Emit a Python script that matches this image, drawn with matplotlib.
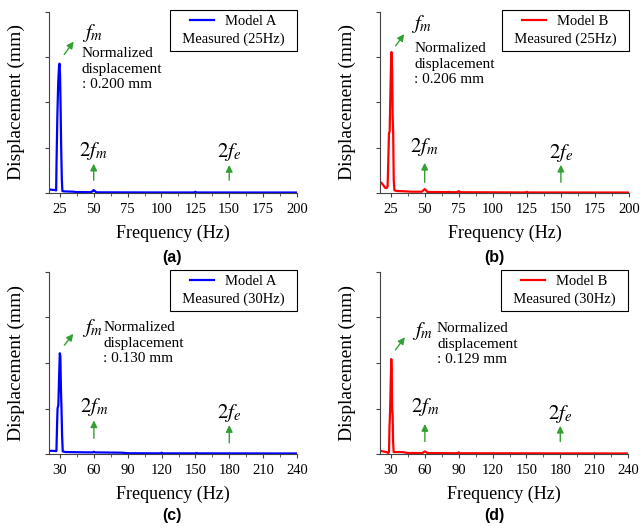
import matplotlib
matplotlib.use("Agg")
import matplotlib.pyplot as plt
from matplotlib.ticker import MultipleLocator

plt.rcParams['font.family'] = ['Liberation Serif', 'DejaVu Serif']
plt.rcParams['mathtext.fontset'] = 'stix'

# ---- data (displacement in mm, arbitrary scale) ----
freq_a = [17, 19, 21.5, 22.3, 22.6, 23.2, 23.8, 24.4, 24.8, 25.2, 25.6, 26.0, 26.5,
          26.9, 28, 35, 37, 48, 49.2, 50, 50.8, 52, 100, 124, 125, 126, 200]
disp_a = [0.0056, 0.005, 0.0045, 0.004, 0.05, 0.12, 0.17, 0.195, 0.2, 0.18, 0.13,
          0.07, 0.02, 0.003, 0.0025, 0.002, 0.0015, 0.0012, 0.003, 0.0045, 0.003,
          0.001, 0.0008, 0.0008, 0.0018, 0.0008, 0.0007]

freq_b = [17.2, 18, 19, 20, 21, 22, 22.8, 23.3, 23.8, 24.3, 24.8, 25.3, 25.7, 26.1,
          26.5, 26.9, 27.3, 27.8, 30, 36, 40, 48, 49, 50, 51, 52, 60, 74, 75, 76,
          124, 125, 126, 200]
disp_b = [0.0174, 0.016, 0.014, 0.011, 0.008, 0.0075, 0.01, 0.05, 0.092, 0.095,
          0.15, 0.2, 0.218, 0.19, 0.12, 0.09, 0.02, 0.004, 0.003, 0.0025, 0.002,
          0.002, 0.004, 0.006, 0.004, 0.0015, 0.0015, 0.0012, 0.003, 0.0012,
          0.0008, 0.0018, 0.0008, 0.0007]

freq_c = [20, 24, 26.8, 27.3, 27.8, 28.5, 29.2, 29.8, 30.3, 30.8, 31.3, 31.8, 32.4,
          35, 55, 59, 60, 61, 85, 90, 119, 120, 121, 150, 151, 152, 240]
disp_c = [0.005, 0.0048, 0.0045, 0.04, 0.07, 0.075, 0.12, 0.155, 0.15, 0.1, 0.07,
          0.03, 0.004, 0.003, 0.0025, 0.0025, 0.0035, 0.0025, 0.002, 0.0012, 0.001,
          0.002, 0.001, 0.001, 0.0016, 0.001, 0.0008]

freq_d = [20.2, 23, 26, 27.5, 28.2, 28.6, 29.2, 29.7, 30.2, 30.6, 31.0, 31.4, 31.8,
          32.3, 40, 45, 58, 59, 60, 61, 62, 89, 90, 91, 240]
disp_d = [0.005, 0.004, 0.003, 0.0015, 0.003, 0.04, 0.068, 0.11, 0.146, 0.13, 0.07,
          0.06, 0.02, 0.003, 0.003, 0.0015, 0.0015, 0.003, 0.004, 0.003, 0.0015,
          0.0012, 0.0025, 0.0012, 0.0008]

models = ['Model A', 'Model B', 'Model A', 'Model B']
measured = ['Measured (25Hz)', 'Measured (25Hz)', 'Measured (30Hz)', 'Measured (30Hz)']
norm_disp = ['0.200', '0.206', '0.130', '0.129']
f_m = [25, 25, 30, 30]
f_e = [75, 75, 90, 90]
panel_tags = ['(a)', '(b)', '(c)', '(d)']

# layout / style per panel
rects = [[0.0764, 0.6338, 0.3869, 0.3435], [0.5928, 0.6338, 0.3885, 0.3435],
         [0.0764, 0.1385, 0.3869, 0.3454], [0.5928, 0.1385, 0.3869, 0.3454]]
colors = ['#0000ff', '#ff0000', '#0000ff', '#ff0000']
xlims = [(17, 200), (17.2, 200), (20.2, 240), (20.2, 240)]
xsteps = [25, 25, 30, 30]
# arrow/text positions in axes fraction
fm_arrow = [((0.055, 0.753), (0.106, 0.849)), ((0.056, 0.80), (0.104, 0.89)),
            ((0.055, 0.586), (0.105, 0.672)), ((0.056, 0.56), (0.107, 0.654))]
fm_text = [(0.132, 0.884), (0.123, 0.932), (0.134, 0.69), (0.128, 0.676)]
nd_text = [(0.133, 0.805), (0.138, 0.832), (0.219, 0.73), (0.23, 0.723)]
h2fm = [(0.232, 0.055, 0.177), (0.256, 0.044, 0.182), (0.26, 0.071, 0.20), (0.26, 0.053, 0.18)]
h2fe = [(0.228, 0.055, 0.17), (0.219, 0.044, 0.171), (0.224, 0.046, 0.174), (0.218, 0.053, 0.17)]
tag_pos = [(0.268, 0.512), (0.771, 0.512), (0.268, 0.022), (0.771, 0.022)]

series = [(freq_a, disp_a), (freq_b, disp_b), (freq_c, disp_c), (freq_d, disp_d)]

fig = plt.figure(figsize=(6.41, 5.27), dpi=100)
arrow_green = '#33a033'

for i in range(4):
    ax = fig.add_axes(rects[i])
    fx, dy = series[i]
    ax.plot(fx, dy, color=colors[i], lw=1.6, label=models[i])
    ax.set_xlim(*xlims[i])
    ax.set_ylim(0, 0.28)
    ax.xaxis.set_major_locator(MultipleLocator(xsteps[i]))
    ax.xaxis.set_minor_locator(MultipleLocator(xsteps[i] / 2))
    ax.yaxis.set_major_locator(MultipleLocator(0.07))
    ax.set_yticklabels([])
    ax.tick_params(axis='both', which='major', direction='out', length=3,
                   width=0.8, labelsize=10.5, color='#444444', pad=4)
    ax.tick_params(axis='x', which='minor', direction='out', length=2, width=0.6,
                   color='#444444')
    for s in ['top', 'right']:
        ax.spines[s].set_visible(False)
    for s in ['left', 'bottom']:
        ax.spines[s].set_color('#444444')
        ax.spines[s].set_linewidth(0.8)
    ax.set_xlabel('Frequency (Hz)', fontsize=13)
    ax.xaxis.set_label_coords(0.5, -0.175)
    ax.set_ylabel('Displacement (mm)', fontsize=14)
    ax.yaxis.set_label_coords(-0.095, 0.5)

    # title padded with spaces to widen the box like the original
    leg = ax.legend(loc='upper right', bbox_to_anchor=(1.0, 1.012),
                    title='  ' + measured[i] + '  ',
                    fontsize=10.5, title_fontsize=10.5, frameon=True, fancybox=False,
                    edgecolor='black', framealpha=1, handlelength=1.6,
                    handletextpad=0.8, borderpad=0.35, labelspacing=0.3,
                    borderaxespad=0)
    leg.get_frame().set_linewidth(0.8)
    # put the "Measured" line under the model entry
    leg._legend_box._children.reverse()

    # f_m arrow + text
    (x0, y0), (x1, y1) = fm_arrow[i]
    ax.annotate('', xy=(x1, y1), xytext=(x0, y0), xycoords='axes fraction',
                arrowprops=dict(arrowstyle='-|>', color=arrow_green, lw=1,
                                mutation_scale=10))
    ax.text(fm_text[i][0], fm_text[i][1], r'$f_m$', transform=ax.transAxes,
            fontsize=15, ha='left', va='center')
    ax.text(nd_text[i][0], nd_text[i][1],
            'Normalized\ndisplacement\n: %s mm' % norm_disp[i],
            transform=ax.transAxes, fontsize=11, ha='left', va='top', linespacing=1.25)

    # 2f_m and 2f_e markers (x in data, y in axes fraction)
    trans = ax.get_xaxis_transform()
    for fx0, (ty, ay0, ay1), lab in [(2 * f_m[i], h2fm[i], r'$2f_m$'),
                                     (2 * f_e[i], h2fe[i], r'$2f_e$')]:
        ax.annotate('', xy=(fx0, ay1), xytext=(fx0, ay0), xycoords=trans,
                    arrowprops=dict(arrowstyle='-|>', color=arrow_green, lw=1,
                                    mutation_scale=10))
        ax.text(fx0, ty, lab, transform=trans, fontsize=15, ha='center', va='center')

    fig.text(tag_pos[i][0], tag_pos[i][1], panel_tags[i], fontsize=11.5,
             fontweight='bold', family='Liberation Sans', ha='center', va='center')

fig.savefig('out.png', dpi=100)
